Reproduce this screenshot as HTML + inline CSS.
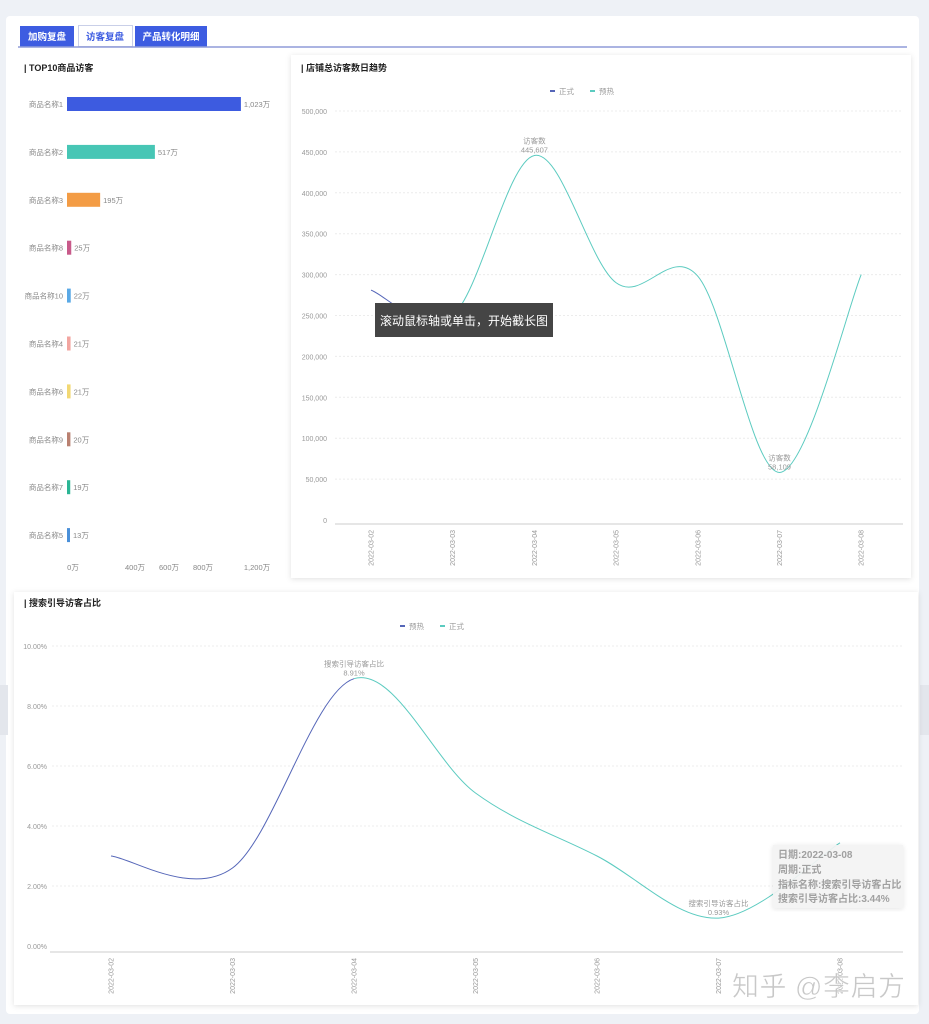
<!DOCTYPE html>
<html><head><meta charset="utf-8">
<style>
html,body{margin:0;padding:0;width:929px;height:1024px;overflow:hidden;background:#eef1f6;font-family:"Liberation Sans","Noto Sans CJK SC",sans-serif;}
svg{position:absolute;left:0;top:0}
text{font-family:"Liberation Sans","Noto Sans CJK SC",sans-serif}
</style></head>
<body>
<svg id="s" width="929" height="1024" xmlns="http://www.w3.org/2000/svg">
<defs>
<filter id="sh" x="-5%" y="-5%" width="110%" height="110%"><feDropShadow dx="0" dy="1" stdDeviation="3" flood-color="#000" flood-opacity="0.12"/></filter>
</defs>
<rect x="0" y="0" width="929" height="1024" fill="#eef1f6"/>
<rect x="6" y="16" width="913" height="998" rx="4" fill="#fff"/>
<rect x="0" y="685" width="8" height="50" fill="#e3e6ec"/>
<rect x="920" y="685" width="9" height="50" fill="#e3e6ec"/>
<!-- tabs -->
<rect x="20" y="26" width="54" height="21" fill="#3d5ce1"/>
<text x="47" y="40" font-size="9.5" font-weight="bold" fill="#fff" text-anchor="middle">加购复盘</text>
<rect x="78.5" y="25.5" width="54" height="21" fill="#fff" stroke="#c9cfe8"/>
<text x="105" y="40" font-size="9.5" font-weight="bold" fill="#3d5ce1" text-anchor="middle">访客复盘</text>
<rect x="135" y="26" width="72" height="21" fill="#3d5ce1"/>
<text x="171" y="40" font-size="9.5" font-weight="bold" fill="#fff" text-anchor="middle">产品转化明细</text>
<line x1="18" y1="47" x2="907" y2="47" stroke="#8f9bd8" stroke-width="1.5"/>
<!-- left chart -->
<text x="24" y="71" font-size="9" font-weight="bold" fill="#222">| TOP10商品访客</text>
<g id="bars"></g>
<!-- right card -->
<rect x="291" y="55" width="620" height="523" fill="#fff" filter="url(#sh)"/>
<text x="301" y="71" font-size="9" font-weight="bold" fill="#222">| 店铺总访客数日趋势</text>
<g id="trend"></g>
<rect x="375" y="303" width="178" height="34" fill="#454545"/>
<text x="464" y="325" font-size="12" fill="#fff" text-anchor="middle">滚动鼠标轴或单击，开始截长图</text>
<!-- bottom card -->
<rect x="14" y="592" width="904" height="413" fill="#fff" filter="url(#sh)"/>
<text x="24" y="606" font-size="9" font-weight="bold" fill="#222">| 搜索引导访客占比</text>
<g id="ratio"></g>
<rect x="773" y="845" width="130" height="63" fill="#f4f4f4" opacity="0.92" filter="url(#sh)"/>
<g font-size="10" font-weight="bold" fill="#a0a0a0">
<text x="778" y="858">日期:2022-03-08</text>
<text x="778" y="873">周期:正式</text>
<text x="778" y="888">指标名称:搜索引导访客占比</text>
<text x="778" y="902">搜索引导访客占比:3.44%</text>
</g>
<text x="732" y="996" font-size="27" fill="#c8c8c8" stroke="#fff" stroke-width="0.5" textLength="173">知乎 @李启方</text>
</svg>
<script>
const barNames=["商品名称1","商品名称2","商品名称3","商品名称8","商品名称10","商品名称4","商品名称6","商品名称9","商品名称7","商品名称5"];
const barValues=[1023,517,195,25,22,21,21,20,19,13];
const barLabels=["1,023万","517万","195万","25万","22万","21万","21万","20万","19万","13万"];
const barTicks=[0,400,600,800,1200];
const barTickLabels=["0万","400万","600万","800万","1,200万"];
const dates=["2022-03-02","2022-03-03","2022-03-04","2022-03-05","2022-03-06","2022-03-07","2022-03-08"];
const visitors=[281000,250000,445607,290000,298000,58109,300000];
const visitorTicks=[0,50000,100000,150000,200000,250000,300000,350000,400000,450000,500000];
const ratioValues=[3.0,2.6,8.91,5.1,3.0,0.93,3.44];
const ratioTicks=[0,2,4,6,8,10];

const NS="http://www.w3.org/2000/svg";
function mk(tag,attrs,parent,txt){const e=document.createElementNS(NS,tag);for(const k in attrs)e.setAttribute(k,attrs[k]);if(txt!=null)e.textContent=txt;parent.appendChild(e);return e;}
const colors=["#3d5be0","#47c6b5","#f39c45","#c85a8a","#5aa9e6","#f2a5a0","#f2d873","#b98070","#2bb594","#4a90d9"];

// bars
const bg=document.getElementById('bars');
const bx=v=>67+v*0.17;
const by=i=>104+i*47.9;
barValues.forEach((v,i)=>{
  const t=mk('text',{x:63,y:by(i)+3,'font-size':7.5,fill:'#888','text-anchor':'end'},bg,barNames[i]);
  
  
  const w=Math.max(bx(v)-bx(0),3);
  const r=mk('rect',{x:67,y:by(i)-7,width:w,height:14,fill:colors[i]},bg);
  
  
  const l=mk('text',{x:67+w+3,y:by(i)+3,'font-size':7.5,fill:'#888'},bg,barLabels[i]);
  
  
});
barTicks.forEach((v,i)=>{
  const x=i==0?73:(i==barTicks.length-1?257:bx(v));
  const t=mk('text',{x:x,y:570,'font-size':7.5,fill:'#888','text-anchor':'middle'},bg,barTickLabels[i]);
  
  
});

function smoothPath(pts,from,to){
  let d='';
  for(let i=from;i<to;i++){
    const p0=pts[Math.max(i-1,0)],p1=pts[i],p2=pts[i+1],p3=pts[Math.min(i+2,pts.length-1)];
    const c1=[p1[0]+(p2[0]-p0[0])/6,p1[1]+(p2[1]-p0[1])/6];
    const c2=[p2[0]-(p3[0]-p1[0])/6,p2[1]-(p3[1]-p1[1])/6];
    if(i==from)d+='M'+p1[0]+','+p1[1];
    d+=' C'+c1[0]+','+c1[1]+' '+c2[0]+','+c2[1]+' '+p2[0]+','+p2[1];
  }
  return d;
}
function legend(g,cx,y,items){
  let x=cx-(items.length*40)/2;
  items.forEach(it=>{
    const l=mk('line',{x1:x,y1:y-3,x2:x+5,y2:y-3,stroke:it[1],'stroke-width':2},g);
    
    
    const t=mk('text',{x:x+9,y:y,'font-size':7.5,fill:'#999'},g,it[0]);
    
    
    x+=40;
  });
}
const BLUE="#5566b8",TEAL="#5ccbc0";

// trend chart
const tg=document.getElementById('trend');
const tx=i=>371+i*81.7;
const ty=v=>520-v*(409/500000);
legend(tg,590,94,[["正式",BLUE],["预热",TEAL]]);
visitorTicks.forEach(v=>{
  const y=ty(v);
  if(v>0){const gl=mk('line',{x1:335,y1:y,x2:903,y2:y,stroke:'#ececec','stroke-dasharray':'2,2'},tg);
  
  }
  const t=mk('text',{x:327,y:y+3,'font-size':7,fill:'#999','text-anchor':'end'},tg,v.toLocaleString('en-US'));
  
  
});
const ax=mk('line',{x1:335,y1:524,x2:903,y2:524,stroke:'#ccc'},tg);


dates.forEach((d,i)=>{
  const t=mk('text',{x:0,y:0,'font-size':7,fill:'#999','text-anchor':'end',transform:'translate('+(tx(i)+2.5)+',530) rotate(-90)'},tg,d);
  
  
});
const tp=visitors.map((v,i)=>[tx(i),ty(v)]);
const p1=mk('path',{d:smoothPath(tp,1,6),fill:'none',stroke:TEAL,'stroke-width':1},tg);


const p0=mk('path',{d:smoothPath(tp,0,1),fill:'none',stroke:BLUE,'stroke-width':1},tg);


[2,5].forEach(i=>{
  const a=mk('text',{x:tx(i),y:ty(visitors[i])-12,'font-size':7.5,fill:'#999','text-anchor':'middle'},tg,'访客数');
  
  
  const b=mk('text',{x:tx(i),y:ty(visitors[i])-3,'font-size':7.5,fill:'#999','text-anchor':'middle'},tg,visitors[i].toLocaleString('en-US'));
  
  
});

// ratio chart
const rg=document.getElementById('ratio');
const rx=i=>111+i*121.5;
const ry=v=>946-v*30;
legend(rg,440,629,[["预热",BLUE],["正式",TEAL]]);
ratioTicks.forEach(v=>{
  const y=ry(v);
  if(v>0){const gl=mk('line',{x1:52,y1:y,x2:903,y2:y,stroke:'#ededed','stroke-dasharray':'2,2'},rg);
  
  }
  const t=mk('text',{x:47,y:y+3,'font-size':7,fill:'#999','text-anchor':'end'},rg,v.toFixed(2)+'%');
  
  
});
const ax2=mk('line',{x1:50,y1:952,x2:903,y2:952,stroke:'#ccc'},rg);


dates.forEach((d,i)=>{
  const t=mk('text',{x:0,y:0,'font-size':7,fill:'#999','text-anchor':'end',transform:'translate('+(rx(i)+2.5)+',958) rotate(-90)'},rg,d);
  
  
});
const rp=ratioValues.map((v,i)=>[rx(i),ry(v)]);
const q1=mk('path',{d:smoothPath(rp,2,6),fill:'none',stroke:TEAL,'stroke-width':1},rg);


const q0=mk('path',{d:smoothPath(rp,0,2),fill:'none',stroke:BLUE,'stroke-width':1},rg);


[2,5].forEach(i=>{
  const a=mk('text',{x:rx(i),y:ry(ratioValues[i])-12,'font-size':7.5,fill:'#999','text-anchor':'middle'},rg,'搜索引导访客占比');
  
  
  const b=mk('text',{x:rx(i),y:ry(ratioValues[i])-3,'font-size':7.5,fill:'#999','text-anchor':'middle'},rg,ratioValues[i].toFixed(2).replace(/0$/,'')+'%');
  
  
});
</script>
</body></html>
